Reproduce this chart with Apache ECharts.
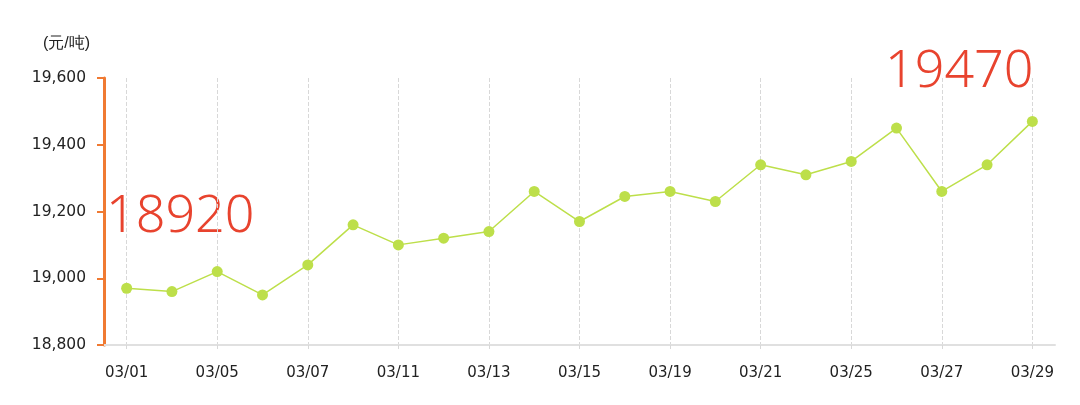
<!DOCTYPE html>
<html>
<head>
<meta charset="utf-8">
<script src="https://cdn.jsdelivr.net/npm/echarts@6/dist/echarts.min.js"></script>
<style>
  html, body { margin: 0; padding: 0; background: #fff; }
  #chart { width: 1080px; height: 405px; }
</style>
</head>
<body>
<div id="chart"></div>
<script>
  // 2019年3月 交易日
  const dates = ['03/01', '03/04', '03/05', '03/06', '03/07', '03/08', '03/11', '03/12', '03/13', '03/14', '03/15',
    '03/18', '03/19', '03/20', '03/21', '03/22', '03/25', '03/26', '03/27', '03/28', '03/29']
  const prices = [18970, 18960, 19020, 18950, 19040, 19160, 19100, 19120, 19140, 19260, 19170,
    19245, 19260, 19230, 19340, 19310, 19350, 19450, 19260, 19340, 19470]
  const yTicks = [18800, 19000, 19200, 19400, 19600]
  const startLabel = '18920'
  const endLabel = '19470'

  const chart = echarts.init(document.getElementById('chart'))
  const red = '#e8432e'

  chart.setOption({
    animation: false,
    grid: { left: 104, right: 25, top: 78, bottom: 60 },
    xAxis: {
      type: 'category',
      data: dates,
      boundaryGap: true,
      axisLine: { lineStyle: { color: '#e0e0e0', width: 2 } },
      axisTick: {
        show: true, interval: 1, alignWithLabel: true, length: 6,
        lineStyle: { color: '#d8d8d8', type: 'dashed' }
      },
      axisLabel: { interval: 1, color: '#222', fontSize: 15, margin: 21, fontFamily: 'DejaVu Sans' },
      splitLine: {
        show: true, interval: 1, alignWithLabel: true,
        lineStyle: { color: '#d8d8d8', type: 'dashed' }
      }
    },
    yAxis: {
      type: 'value',
      name: '(元/吨)',
      nameGap: 26,
      nameTextStyle: { color: '#222', fontSize: 16, align: 'right', padding: [0, 14, 0, 0] },
      min: yTicks[0],
      max: yTicks[yTicks.length - 1],
      interval: 200,
      axisLine: { show: true, lineStyle: { color: '#f07a32', width: 3 } },
      axisTick: { show: true, length: 7, lineStyle: { color: '#f07a32', width: 2 } },
      axisLabel: {
        color: '#222', fontSize: 15.5, margin: 18, fontFamily: 'DejaVu Sans',
        formatter: v => v.toLocaleString('en-US')
      },
      splitLine: { show: false }
    },
    series: [{
      type: 'line',
      data: prices,
      symbol: 'circle',
      symbolSize: 11,
      itemStyle: { color: '#bddf4a' },
      lineStyle: { color: '#bddf4a', width: 1.5 }
    }],
    graphic: [
      {
        type: 'text', left: 106, top: 191,
        style: { text: startLabel, fill: red, font: '300 52px "Noto Sans", sans-serif' }
      },
      {
        type: 'text', left: 885, top: 46,
        style: { text: endLabel, fill: red, font: '300 52px "Noto Sans", sans-serif' }
      }
    ]
  })
</script>
</body>
</html>
